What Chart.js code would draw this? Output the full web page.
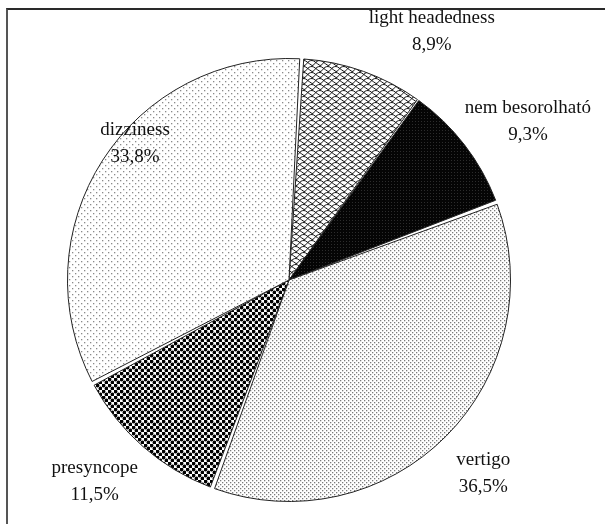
<!DOCTYPE html>
<html>
<head>
<meta charset="utf-8">
<script src="https://cdn.jsdelivr.net/npm/chart.js@4/dist/chart.umd.min.js"></script>
<style>
  html, body { margin: 0; padding: 0; background: #fff; }
  #wrap { position: relative; width: 605px; height: 524px; overflow: hidden; }
  #frame { position: absolute; left: 6px; top: 8px; width: 700px; height: 600px;
           border-top: 2px solid #2a2a2a; border-left: 2px solid #555; box-sizing: border-box; }
  canvas { position: absolute; left: 0; top: 0; }
</style>
</head>
<body>
<div id="wrap">
  <div id="frame"></div>
  <canvas id="chart" width="605" height="524"></canvas>
</div>
<script>
// Categories and their shares (%), clockwise from the top
const categories = ['light headedness', 'nem besorolható', 'vertigo', 'presyncope', 'dizziness'];
const shares = [8.9, 9.3, 36.5, 11.5, 33.8];

// Where each label sits, as a multiple of the pie radius from its centre
const labelOffsets = [
  [0.649, -1.131],
  [1.086, -0.721],
  [0.883, 0.878],
  [-0.883, 0.914],
  [-0.700, -0.619]
];

function tile(w, h, draw) {
  const c = document.createElement('canvas');
  c.width = w; c.height = h;
  const g = c.getContext('2d');
  g.fillStyle = '#fff';
  g.fillRect(0, 0, w, h);
  draw(g);
  return document.getElementById('chart').getContext('2d').createPattern(c, 'repeat');
}

// Scalloped cross-hatch
const shingle = tile(8, 6, g => {
  g.strokeStyle = '#111';
  g.lineWidth = 1;
  g.beginPath();
  g.moveTo(0, 5.5); g.bezierCurveTo(3, 5.5, 3, 0.5, 8, 0.5);
  g.moveTo(-8, 5.5 + 6); g.bezierCurveTo(-5, 5.5, -5, 0.5, 0, 0.5);
  g.moveTo(0, 0.5); g.bezierCurveTo(2, 0.5, 4, 3, 8, 5.5);
  g.stroke();
});
// Near-solid black with fine light grain
const darkGrain = tile(3, 3, g => {
  g.fillStyle = '#050505';
  g.fillRect(0, 0, 3, 3);
  g.fillStyle = '#2c2c2c';
  g.fillRect(1, 1, 1, 1);
});
// Dense grey dots
const denseDots = tile(4, 4, g => {
  g.fillStyle = '#7a7a7a';
  g.fillRect(0, 0, 1.3, 1.3);
  g.fillRect(2, 2, 1.3, 1.3);
});
// Large black checker of round dots
const checker = tile(6, 6, g => {
  g.fillStyle = '#000';
  g.beginPath(); g.arc(1.5, 1.5, 1.9, 0, Math.PI * 2); g.fill();
  g.beginPath(); g.arc(4.5, 4.5, 1.9, 0, Math.PI * 2); g.fill();
});
// Sparse grey dots
const sparseDots = tile(6, 6, g => {
  g.fillStyle = '#8a8a8a';
  g.fillRect(0, 0, 1.3, 1.3);
  g.fillRect(3, 3, 1.3, 1.3);
});

const fills = [shingle, darkGrain, denseDots, checker, sparseDots];

function fmtShare(v) {
  return v.toFixed(1).replace('.', ',') + '%';
}

const labelPlugin = {
  id: 'sliceLabels',
  afterDraw(chart) {
    const meta = chart.getDatasetMeta(0);
    const arc = meta.data[0];
    const cx = arc.x, cy = arc.y, r = arc.outerRadius;
    const ctx = chart.ctx;
    ctx.save();
    ctx.font = '19px "Liberation Serif", "Times New Roman", serif';
    ctx.fillStyle = '#111';
    ctx.textAlign = 'center';
    ctx.textBaseline = 'middle';
    categories.forEach((name, i) => {
      const x = cx + labelOffsets[i][0] * r;
      const y = cy + labelOffsets[i][1] * r;
      ctx.fillText(name, x, y - 13.5);
      ctx.fillText(fmtShare(shares[i]), x, y + 13.5);
    });
    ctx.restore();
  }
};

new Chart(document.getElementById('chart'), {
  type: 'pie',
  data: {
    labels: categories,
    datasets: [{
      data: shares,
      backgroundColor: fills,
      borderColor: '#222',
      borderWidth: 1,
      spacing: 3
    }]
  },
  options: {
    responsive: false,
    animation: false,
    rotation: 3.6,
    layout: { padding: { left: 67, right: 94, top: 58, bottom: 22 } },
    plugins: {
      legend: { display: false },
      tooltip: { enabled: false }
    }
  },
  plugins: [labelPlugin]
});
</script>
</body>
</html>
